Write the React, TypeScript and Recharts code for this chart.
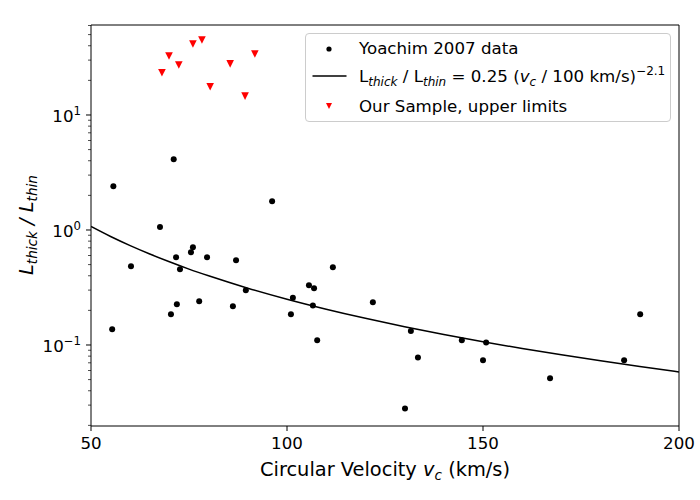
import React from 'react';
import { ComposedChart, Scatter, Line, XAxis, YAxis, ReferenceLine } from 'recharts';

// Yoachim & Dalcanton 2007 thick/thin luminosity ratios
const yoachimV = [
  55.7, 71.1, 96.2, 67.6, 76.0, 71.7, 75.5, 79.6, 87.0, 60.2, 72.7, 111.7,
  105.6, 106.9, 89.5, 101.5, 77.6, 71.9, 106.6, 86.2, 70.4, 101.0, 55.4, 107.7,
  121.9, 131.6, 133.4, 130.1, 144.6, 150.8, 150.0, 167.1, 186.0, 190.1,
];
const yoachimRatio = [
  2.4, 4.12, 1.78, 1.06, 0.707, 0.579, 0.64, 0.579, 0.545, 0.483, 0.455, 0.474,
  0.33, 0.311, 0.299, 0.258, 0.24, 0.226, 0.221, 0.217, 0.185, 0.185, 0.137, 0.11,
  0.235, 0.132, 0.078, 0.028, 0.11, 0.105, 0.0736, 0.0513, 0.0736, 0.185,
];

// our sample, upper limits
const sampleV = [68.1, 69.9, 72.4, 76.0, 78.3, 80.4, 85.5, 89.3, 91.8];
const sampleLimit = [23.3, 32.6, 27.2, 41.4, 44.9, 17.6, 27.8, 14.6, 33.9];

// power law 0.25 (vc/100)^-2.1, read at these velocities
const fitV = [50, 55, 60, 65, 70, 75, 80, 90, 100, 110, 120, 130, 140, 150, 160, 170, 180, 190, 200];
const fitRatio = [
  1.072, 0.877, 0.731, 0.618, 0.529, 0.457, 0.3995, 0.312, 0.25, 0.2047, 0.1705,
  0.1441, 0.1233, 0.1067, 0.0932, 0.0821, 0.0728, 0.065, 0.0583,
];

const xTicks = [50, 100, 150, 200];
const yMajorTicks = [0.1, 1, 10];
const yMinorTicks = [
  0.02, 0.03, 0.04, 0.05, 0.06, 0.07, 0.08, 0.09,
  0.2, 0.3, 0.4, 0.5, 0.6, 0.7, 0.8, 0.9,
  2, 3, 4, 5, 6, 7, 8, 9,
  20, 30, 40, 50, 60,
];

const X_DOMAIN = [50, 200];
const Y_DOMAIN = [0.01975, 60.6];

const FONT = '"DejaVu Sans", sans-serif';
const TICK_SIZE = 16.67;
const LABEL_SIZE = 19.4;

const yoachimData = yoachimV.map((v, i) => ({ v, y: yoachimRatio[i] }));
const sampleData = sampleV.map((v, i) => ({ v, y: sampleLimit[i] }));
const fitData = fitV.map((v, i) => ({ v, y: fitRatio[i] }));
const yTicks = [...yMinorTicks, ...yMajorTicks].sort((a, b) => a - b);

const BlackDot = (p: any) => <circle cx={p.cx} cy={p.cy} r={3} fill="#000" />;

const RedTriangle = (p: any) => {
  const s = 3.8;
  return (
    <polygon
      points={`${p.cx - s},${p.cy - s} ${p.cx + s},${p.cy - s} ${p.cx},${p.cy + s}`}
      fill="#ff0000"
    />
  );
};

const XTick = (props: any) => {
  const { x, y, payload } = props;
  return (
    <g>
      <line x1={x} x2={x} y1={y} y2={y + 5} stroke="#000" strokeWidth={1} />
      <text x={x} y={y + 23.3} textAnchor="middle" fontSize={TICK_SIZE} fontFamily={FONT} fill="#000">
        {payload.value}
      </text>
    </g>
  );
};

const YTick = (props: any) => {
  const { x, y, payload } = props;
  const val = payload.value;
  const major = yMajorTicks.includes(val);
  const exp = Math.round(Math.log10(val));
  return (
    <g>
      <line x1={x} x2={x - (major ? 5 : 3)} y1={y} y2={y} stroke="#000" strokeWidth={major ? 1 : 0.7} />
      {major && (
        <text x={x - 10} y={y + 7.3} textAnchor="end" fontSize={TICK_SIZE} fontFamily={FONT} fill="#000">
          10
          <tspan dy={-7.5} fontSize={11.7}>
            {exp < 0 ? '\u2212' + -exp : exp}
          </tspan>
        </text>
      )}
    </g>
  );
};

const YLabel = () => (
  <text
    x={33}
    y={225}
    transform="rotate(-90, 33, 225)"
    textAnchor="middle"
    fontSize={LABEL_SIZE}
    fontFamily={FONT}
    fontStyle="italic"
    fill="#000"
  >
    L<tspan dy={4} fontSize={13.6}>thick</tspan>
    <tspan dy={-4}> / L</tspan>
    <tspan dy={4} fontSize={13.6}>thin</tspan>
  </text>
);

const XLabel = () => (
  <text x={385} y={476} textAnchor="middle" fontSize={LABEL_SIZE} fontFamily={FONT} fill="#000">
    Circular Velocity <tspan fontStyle="italic">v</tspan>
    <tspan dy={4} fontSize={13.6} fontStyle="italic">c</tspan>
    <tspan dy={-4}> (km/s)</tspan>
  </text>
);

const legendRow: React.CSSProperties = {
  position: 'absolute',
  left: 0,
  height: 28,
  display: 'flex',
  alignItems: 'center',
  whiteSpace: 'nowrap',
};

function ChartLegend() {
  return (
    <div
      style={{
        position: 'absolute',
        left: 305,
        top: 33,
        width: 366,
        height: 89,
        boxSizing: 'border-box',
        border: '1px solid #cccccc',
        borderRadius: 4,
        background: 'rgba(255,255,255,0.8)',
        fontFamily: FONT,
        fontSize: TICK_SIZE,
        color: '#000',
      }}
    >
      <div style={{ ...legendRow, top: 0.5 }}>
        <svg width={53} height={28}>
          <circle cx={23} cy={14} r={2.6} fill="#000" />
        </svg>
        <span>Yoachim 2007 data</span>
      </div>
      <div style={{ ...legendRow, top: 28 }}>
        <svg width={53} height={28}>
          <line x1={6.5} x2={40.5} y1={14} y2={14} stroke="#000" strokeWidth={1.5} />
        </svg>
        <span>
          L<sub style={{ fontStyle: 'italic', fontSize: 12 }}>thick</sub> / L
          <sub style={{ fontStyle: 'italic', fontSize: 12 }}>thin</sub> = 0.25 (
          <i>v</i>
          <sub style={{ fontStyle: 'italic', fontSize: 12 }}>c</sub> / 100 km/s)
          <sup style={{ fontSize: 12 }}>{'\u2212'}2.1</sup>
        </span>
      </div>
      <div style={{ ...legendRow, top: 58 }}>
        <svg width={53} height={28}>
          <polygon points="20,11 26,11 23,17" fill="#ff0000" />
        </svg>
        <span>Our Sample, upper limits</span>
      </div>
    </div>
  );
}

export default function App() {
  return (
    <div style={{ position: 'absolute', left: 0, top: 0, width: 700, height: 500, background: '#fff' }}>
      <ComposedChart width={700} height={500} margin={{ top: 25, right: 21, bottom: 24, left: 31 }}>
        <XAxis
          dataKey="v"
          type="number"
          domain={X_DOMAIN}
          ticks={xTicks}
          interval={0}
          allowDataOverflow
          height={50}
          tickSize={0}
          tickMargin={0}
          tickLine={false}
          axisLine={{ stroke: '#000', strokeWidth: 1 }}
          tick={<XTick />}
        />
        <YAxis
          dataKey="y"
          type="number"
          scale="log"
          domain={Y_DOMAIN}
          ticks={yTicks}
          interval={0}
          allowDataOverflow
          width={60}
          tickSize={0}
          tickMargin={0}
          tickLine={false}
          axisLine={{ stroke: '#000', strokeWidth: 1 }}
          tick={<YTick />}
        />
        {/* top and right spines */}
        <ReferenceLine y={Y_DOMAIN[1]} stroke="#000" strokeWidth={1} ifOverflow="extendDomain" />
        <ReferenceLine x={X_DOMAIN[1]} stroke="#000" strokeWidth={1} ifOverflow="extendDomain" />
        <Scatter data={yoachimData} shape={BlackDot} isAnimationActive={false} />
        <Line
          data={fitData}
          dataKey="y"
          type="monotone"
          stroke="#000"
          strokeWidth={1.5}
          dot={false}
          activeDot={false}
          isAnimationActive={false}
        />
        <Scatter data={sampleData} shape={RedTriangle} isAnimationActive={false} />
        <YLabel />
        <XLabel />
      </ComposedChart>
      <ChartLegend />
    </div>
  );
}
